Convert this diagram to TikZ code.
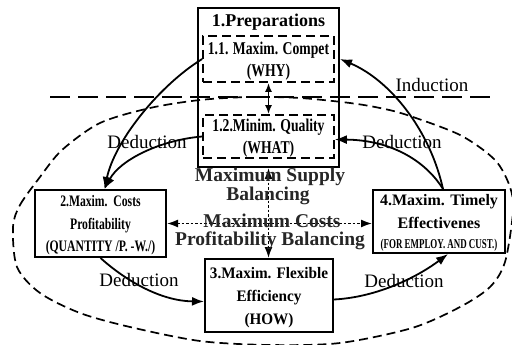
\documentclass[tikz,border=0pt]{standalone}
\usepackage{fontspec}
\setmainfont{Liberation Serif}
% narrower cuts of the same serif for the box captions
\newfontfamily\narrowA{Liberation Serif}[FakeStretch=0.76]
\newfontfamily\narrowB{Liberation Serif}[FakeStretch=0.73]
\newfontfamily\narrowC{Liberation Serif}[FakeStretch=0.95]
\newfontfamily\narrowD{Liberation Serif}[FakeStretch=0.66]
\usetikzlibrary{arrows.meta}
\begin{document}
\begin{tikzpicture}[x=1pt,y=-1pt,
  box/.style={draw, line width=2pt, inner sep=0pt, align=center, text depth=0pt},
  subbox/.style={draw, line width=1.7pt, dash pattern=on 9pt off 5pt, inner sep=0pt, align=center, text depth=0pt},
  flow/.style={line width=1.8pt, -{Latex[length=12pt,width=9pt]}},
  twoway/.style={line width=1.8pt, {Latex[length=9pt,width=7pt]}-{Latex[length=9pt,width=7pt]}},
  balance/.style={line width=1.6pt, dash pattern=on 2.5pt off 2pt, {Latex[length=11pt,width=8pt]}-{Latex[length=11pt,width=8pt]}},
  border/.style={line width=1.7pt, dash pattern=on 9pt off 5pt},
  divide/.style={line width=1.7pt, dash pattern=on 20pt off 8pt},
  lbl/.style={font=\fontsize{19}{19}\selectfont, inner sep=0pt, anchor=base},
  midlbl/.style={font=\bfseries\fontsize{19.5}{19.5}\selectfont, text=black!85, inner sep=0pt, anchor=base},
  headline/.style={font=\bfseries\fontsize{18}{18}\selectfont, inner sep=0pt, anchor=base},
]
\clip (0,0) rectangle (512,345);

% outer dashed loop
\draw[border] plot[smooth cycle] coordinates {
  (13,227) (20,205) (40,177) (62,150) (100,123) (150,108) (200,100) (250,97)
  (300,98) (350,103) (380,108) (407,115) (460,135) (495,160) (510,187)
  (513,212) (505,262) (490,287) (460,307) (412,328) (340,343) (270,345)
  (200,341) (130,327) (80,313) (40,293) (17,267)};

% induction divider
\coordinate (indL) at (50,97);
\coordinate (indR) at (490,97);
\draw[divide] (indL) -- (indR);

% preparations block
\node[box, minimum width=141pt, minimum height=159pt] (prep) at (268.5,87.5) {};
\node[headline] (ptitle) at (268.5,27) {1.Preparations};
\node[subbox, minimum width=131pt, minimum height=46pt,
      font=\narrowA\bfseries\fontsize{18}{22}\selectfont] (cmp) at (268.5,59)
      {1.1. Maxim. Compet\\(WHY)};
\node[subbox, minimum width=131pt, minimum height=43pt,
      font=\narrowA\bfseries\fontsize{18}{22}\selectfont] (qual) at (268.5,136.5)
      {1.2.Minim. Quality\\(WHAT)};
\draw[twoway] (cmp.south) -- (qual.north);

% the three stages
\node[box, minimum width=131pt, minimum height=67pt,
      font=\narrowB\bfseries\fontsize{16}{22.5}\selectfont] (cost) at (100.5,223.5)
      {2.Maxim.\ \ Costs\\Profitability\\(QUANTITY /P. -W./)};
\node[box, minimum width=128pt, minimum height=73pt,
      font=\narrowC\bfseries\fontsize{16}{23}\selectfont] (flex) at (269,295.5)
      {3.Maxim. Flexible\\Efficiency\\(HOW)};
\node[box, minimum width=132pt, minimum height=63pt,
      font=\bfseries\fontsize{16}{23.4}\selectfont] (time) at (439,221.5)
      {4.Maxim. Timely\\Effectivenes\\[-3pt]{\narrowD\fontsize{13.5}{20}\selectfont(FOR EMPLOY. AND CUST.)}};

% balancing links
\draw[balance] (prep.south) -- (prep.south |- flex.north);
\draw[balance] (cost.east) -- (cost.east -| time.west);

% deduction / induction flows
\draw[flow] (cmp.west) .. controls (160,85) and (115,140) .. ([xshift=4pt]cost.north);
\draw[flow] (qual.west) .. controls (160,140) and (120,160) .. ([xshift=4pt]cost.north);
\draw[flow] ([xshift=4pt]time.north) .. controls (430,130) and (390,80) .. (prep.east |- cmp.east);
\draw[flow] ([xshift=4pt]time.north) .. controls (425,160) and (390,140) .. ([yshift=-3pt]qual.east);
\draw[flow] (cost.south) .. controls (125,280) and (160,301) .. ([yshift=-6pt]flex.west);
\draw[flow] ([yshift=-4pt]flex.east) .. controls (380,297) and (420,275) .. ([xshift=9pt]time.south);

% labels
\node[lbl] (dedA) at (147,148) {Deduction};
\node[lbl] (dedB) at (402,148) {Deduction};
\node[lbl] (dedC) at (139,286) {Deduction};
\node[lbl] (dedD) at (404,287) {Deduction};
\node[lbl] (ind) at (432,92) {Induction};
\node[midlbl] (supA) at (270,181) {Maximum Supply};
\node[midlbl] (supB) at (268,200) {Balancing};
\node[midlbl] (cstA) at (272,227) {Maximum Costs};
\node[midlbl] (cstB) at (270,245) {Profitability Balancing};
\end{tikzpicture}
\end{document}
